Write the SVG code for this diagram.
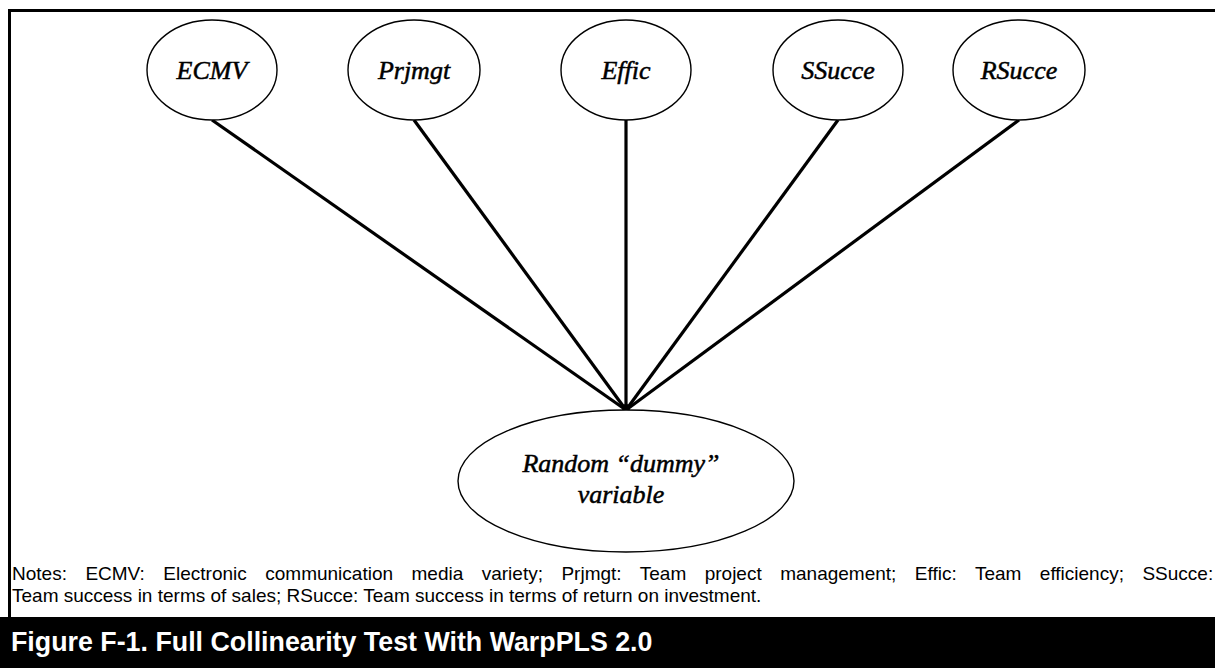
<svg xmlns="http://www.w3.org/2000/svg" width="1215" height="671" viewBox="0 0 1215 671">
<style>
.node ellipse{fill:#fff;stroke:#000;stroke-width:1.4}
.lbl{font-family:"Liberation Serif","Times New Roman",serif;font-style:italic;font-size:26px;text-anchor:middle;fill:#000;stroke:#000;stroke-width:0.5}
.conn line{stroke:#000;stroke-width:3.2;stroke-linecap:butt}
.notes{font-family:"Liberation Sans",Arial,sans-serif;font-size:19px;fill:#000}
.title{font-family:"Liberation Sans",Arial,sans-serif;font-size:26.8px;font-weight:bold;fill:#fff}
</style>
<rect x="0" y="0" width="1215" height="671" fill="#fff"/>
<path d="M1215 10.5 H9.5 V617" fill="none" stroke="#000" stroke-width="3"/>
<g id="connectors" class="conn">
<line x1="212" y1="120" x2="626" y2="410"/>
<line x1="414" y1="120" x2="626" y2="410"/>
<line x1="626" y1="120" x2="626" y2="410"/>
<line x1="838" y1="120" x2="626" y2="410"/>
<line x1="1019" y1="120" x2="626" y2="410"/>
<circle cx="626" cy="408" r="4" fill="#000"/>
</g>
<g id="ECMV" class="node"><ellipse cx="212" cy="70" rx="65" ry="50"/><text class="lbl" x="212" y="79">ECMV</text></g>
<g id="Prjmgt" class="node"><ellipse cx="414" cy="70" rx="66" ry="50"/><text class="lbl" x="414" y="79">Prjmgt</text></g>
<g id="Effic" class="node"><ellipse cx="626" cy="70" rx="65" ry="50"/><text class="lbl" x="626" y="79">Effic</text></g>
<g id="SSucce" class="node"><ellipse cx="838" cy="70" rx="65" ry="50"/><text class="lbl" x="838" y="79">SSucce</text></g>
<g id="RSucce" class="node"><ellipse cx="1019" cy="70" rx="66" ry="50"/><text class="lbl" x="1019" y="79">RSucce</text></g>
<g id="Random" class="node"><ellipse cx="626" cy="481" rx="168" ry="71"/><text class="lbl" x="621" y="472">Random “dummy”</text><text class="lbl" x="621" y="503">variable</text></g>
<g id="notes">
<text class="notes" x="12" y="580" word-spacing="13.2">Notes: ECMV: Electronic communication media variety; Prjmgt: Team project management; Effic: Team efficiency; SSucce:</text>
<text class="notes" x="12" y="602">Team success in terms of sales; RSucce: Team success in terms of return on investment.</text>
</g>
<rect x="0" y="617" width="1215" height="51" fill="#000"/>
<text class="title" x="11" y="651">Figure F-1. Full Collinearity Test With WarpPLS 2.0</text>
</svg>
